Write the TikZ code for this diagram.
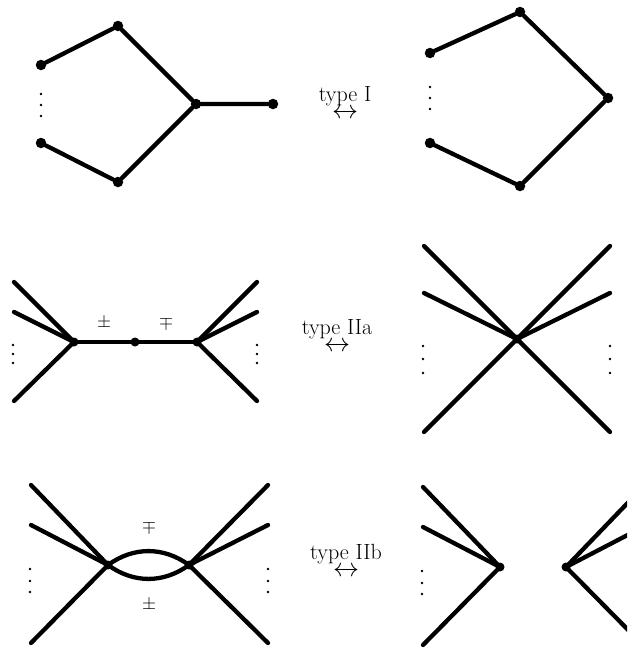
\RequirePackage{fix-cm}
\documentclass[tikz,border=0pt]{standalone}
\usepackage{amsmath}
\usepackage{tikz}

\begin{document}
\begin{tikzpicture}[x=1pt,y=-1pt,
  vertex/.style={circle,fill=black,inner sep=0pt,minimum size=10.5pt},
  joint/.style={circle,fill=black,inner sep=0pt,minimum size=9pt},
  edge/.style={line width=4.3pt,line cap=round},
  dot/.style={circle,fill=black,inner sep=0pt,minimum size=2.8pt},
  sign/.style={font=\fontsize{18}{20}\selectfont,inner sep=0pt},
  move/.style={font=\fontsize{26}{30}\selectfont,inner sep=0pt,anchor=base}]
  \clip (0,0) rectangle (627,648);
  % type I
  \node[vertex] (p1) at (41,65) {};
  \node[vertex] (p2) at (118,26) {};
  \node[vertex] (p3) at (196,104) {};
  \node[vertex] (p4) at (273,104) {};
  \node[vertex] (p5) at (118,182) {};
  \node[vertex] (p6) at (41,143) {};
  \draw[edge] (p1)--(p2)--(p3)--(p4); \draw[edge] (p3)--(p5)--(p6);
  \foreach \y in {94,105,116} \node[dot] at (41,\y) {};
  \node[move] (m1) at (345,118.5) {$\stackrel{\text{\fontsize{22}{26}\selectfont type I}}{\leftrightarrow}$};
  \node[vertex] (q1) at (430,53) {};
  \node[vertex] (q2) at (520,12) {};
  \node[vertex] (q3) at (608,98) {};
  \node[vertex] (q4) at (520,186) {};
  \node[vertex] (q5) at (430,143) {};
  \draw[edge] (q1)--(q2)--(q3)--(q4)--(q5);
  \foreach \y in {87,98,109} \node[dot] at (430,\y) {};
  % type IIa
  \node[joint] (a1) at (74,342) {};
  \node[joint] (a2) at (135,342) {};
  \node[joint] (a3) at (197,342) {};
  \coordinate (al1) at (14,282); \coordinate (al2) at (14,312); \coordinate (al3) at (14,401);
  \coordinate (ar1) at (257,282); \coordinate (ar2) at (257,312); \coordinate (ar3) at (257,401);
  \draw[edge] (a1)--(a2)--(a3);
  \foreach \e in {al1,al2,al3} \draw[edge] (a1.center)--(\e);
  \foreach \e in {ar1,ar2,ar3} \draw[edge] (a3.center)--(\e);
  \foreach \y in {345,354,363} {\node[dot] at (13,\y) {}; \node[dot] at (257,\y) {};}
  \node[sign] (s1) at (104,323) {$\pm$};
  \node[sign] (s2) at (166,323) {$\mp$};
  \node[move] (m2) at (337,351.5) {$\stackrel{\text{\fontsize{22}{26}\selectfont type IIa}}{\leftrightarrow}$};
  \node[joint] (x) at (517,339) {};
  \coordinate (xl1) at (424,246); \coordinate (xl2) at (424,293); \coordinate (xl3) at (424,432);
  \coordinate (xr1) at (610,246); \coordinate (xr2) at (610,293); \coordinate (xr3) at (610,432);
  \foreach \e in {xl1,xl2,xl3,xr1,xr2,xr3} \draw[edge] (x.center)--(\e);
  \foreach \y in {346,359,373} {\node[dot] at (423,\y) {}; \node[dot] at (610,\y) {};}
  % type IIb
  \node[joint] (b1) at (108,565) {};
  \node[joint] (b2) at (189,565) {};
  \coordinate (bl1) at (31,485); \coordinate (bl2) at (31,525); \coordinate (bl3) at (31,643);
  \coordinate (br1) at (268,485); \coordinate (br2) at (268,525); \coordinate (br3) at (268,643);
  \draw[edge] (b1.center) to[bend left=36] (b2.center);
  \draw[edge] (b1.center) to[bend right=36] (b2.center);
  \foreach \e in {bl1,bl2,bl3} \draw[edge] (b1.center)--(\e);
  \foreach \e in {br1,br2,br3} \draw[edge] (b2.center)--(\e);
  \foreach \y in {569,581,592} {\node[dot] at (30,\y) {}; \node[dot] at (268,\y) {};}
  \node[sign] (s3) at (149,527) {$\mp$};
  \node[sign] (s4) at (149,605) {$\pm$};
  \node[move] (m3) at (346,576.5) {$\stackrel{\text{\fontsize{22}{26}\selectfont type IIb}}{\leftrightarrow}$};
  \node[joint] (c1) at (500,567) {};
  \node[joint] (c2) at (566,567) {};
  \coordinate (cl1) at (423,487); \coordinate (cl2) at (423,527); \coordinate (cl3) at (423,645);
  \coordinate (cr1) at (643,487); \coordinate (cr2) at (643,527); \coordinate (cr3) at (643,645);
  \foreach \e in {cl1,cl2,cl3} \draw[edge] (c1.center)--(\e);
  \foreach \e in {cr1,cr2,cr3} \draw[edge] (c2.center)--(\e);
  \foreach \y in {571,583,594} \node[dot] at (422,\y) {};
\end{tikzpicture}
\end{document}
